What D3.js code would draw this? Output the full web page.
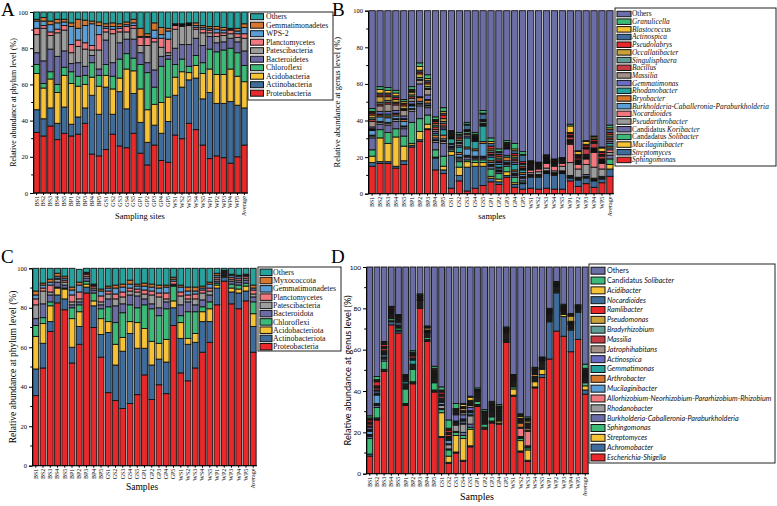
<!DOCTYPE html>
<html><head><meta charset="utf-8">
<script src="https://cdn.jsdelivr.net/npm/d3@7"></script>
<style>body{margin:0;background:#fff}svg{display:block}</style>
</head><body><svg id="c" width="777" height="506"></svg>
<script>
const samples = ["BS1","BS2","BS3","BS4","BS5","BP1","BP2","BP3","BP4","BP5","GS1","GS2","GS3","GS4","GS5","GP1","GP2","GP3","GP4","GP5","WS1","WS2","WS3","WS4","WS5","WP1","WP2","WP3","WP4","WP5","Average"];
const yTicks = [0,20,40,60,80,100];

// Panel A (phylum), stack order bottom -> top
const seriesA = ["Proteobacteria","Actinobacteria","Acidobacteria","Chloroflexi","Bacteroidetes","Patescibacteria","Planctomycetes","WPS-2","Gemmatimonadetes","Others"];
const valuesA = [
[33.5,12.5,20,5,6.5,10,3.5,4,1,4],
[31.5,9.5,17,2.5,12.5,18,1.5,2.5,2,3],
[37,10,16,4,12.5,7.5,2,4,2,5],
[29.5,9,17,4.5,15.5,13,2,3.5,2,4],
[33,14.5,17.5,4.5,9,11.5,2.5,2,1.5,4],
[31.5,6.5,22.5,6.5,4.5,6,4.5,10,2,6],
[32.5,9.5,17,5.5,7.5,9,3.5,6.5,5,4],
[38.5,8.5,13,5,5,9.5,3.5,9.5,3,4.5],
[21.5,32.5,10,8,4,3,2.5,12,1.5,5],
[20.5,23,15.5,6,3.5,10.5,8.5,5,2,5.5],
[24,34.5,6.5,6,13.5,4.5,2,1,1.5,6.5],
[32.5,11,14,7,7.5,16,2.5,1.5,2,6],
[26,30,7.5,10.5,9,6,2,1,1.5,6.5],
[25,21.5,22,8.5,8,4,3,1,1.5,5.5],
[33,22,12.5,7,10.5,6,1.5,1.5,2,4],
[22,17,18.5,13.5,6.5,4,4.5,0.5,4.5,9],
[15.5,12.5,18,20.5,5.5,9.5,4.5,0.5,1.5,12],
[26.5,11,11.5,9.5,9.5,15.5,2,4.5,4,6],
[18,15,17,20,5.5,5,5,2,4,8.5],
[17,22.5,13.5,21,2,1.5,7.5,4.5,1.5,9],
[32,22,10,7,9,10.5,2,0.5,0.5,6.5],
[30,28.5,8.5,7,8,10,0.5,0.5,0.5,6.5],
[38.5,24,4,3.5,12,10.5,0.5,0.5,0.5,6],
[35,28.5,7,5.5,9.5,5,1,1,1.5,6],
[26.5,25.5,14,6,9.5,7,2,1,1,7.5],
[19,36.5,13,11,7,2,1.5,1,1,8],
[20.5,29,16,12.5,5,3.5,2,2,1.5,8],
[19.5,30,16,13.5,4.5,3.5,1.5,1.5,1.5,8.5],
[16.5,34,18,11.5,5.5,2.5,2,0.5,0.5,9],
[20,28.5,16,13,6,2.5,2,1.5,1.5,9],
[26.5,20.5,14.5,9,8,7,2.5,3.5,2,6.5]];

// Panel B (genus)
const seriesB = ["*Sphingomonas*","*Streptomyces*","*Mucilaginibacter*","Candadatus *Solibacter*","Candidatus *Koribacter*","*Pseudarthrobacter*","*Nocardioides*","*Burkholderia-Caballeronia-Paraburkholderia*","*Bryobacter*","*Rhodanobacter*","*Gemmatimonas*","*Massilia*","*Bacillus*","*Singulisphaera*","*Occallatibacter*","*Pseudolabrys*","*Actinospica*","*Blastococcus*","*Granulicella*","Others"];
const valuesB = [
[15,2,3.5,3.5,6.5,1,0.5,2.5,0.5,0.5,1,3,1,1,1.5,1,0.5,0.5,1.5,53.5],
[16.5,1,13,4.5,3,1,0.5,2.5,1,0.5,1.5,3,1,1,3,1,1,2,1.5,41.5],
[16.5,1,10,6,4,1,0.5,2.5,1,1,1.5,4,1,1,2,1,1,1.5,1.5,42],
[14,1,16,4.5,4,1,0.5,1.5,1,0.5,1.5,3,1,0.5,1.5,1,1,1.5,1.5,43.5],
[16,2,8,5.5,4,1,0.5,2.5,1,0.5,1.5,3,0.5,0.5,1.5,1,0.5,1,1,48.5],
[25.5,1,1,11.5,6,1,0.5,1.5,0.5,0.5,1.5,1.5,1,1,1.5,0.5,0.5,0.5,1.5,41.5],
[28.5,1,4.5,7,7,1,0.5,1,2,0.5,7,2,0.5,1,2,1,1,2,2,28.5],
[35,0.5,2.5,5,4,1,0.5,1,1.5,0.5,2.5,3,0.5,1,1.5,1,1,1,2,35],
[13,6.5,0.5,4,4,1,0.5,1,1.5,1,1,1,1.5,1,1,1,0.5,0.5,1.5,58],
[11,2,2,5.5,7,1,0.5,1,2,3,1,1,1.5,1,1.5,2,1,1,2,53],
[3,18,2,1,1,0.5,0.5,1,0.5,2.5,0.5,0.5,0.5,0.5,0.5,0.5,0.5,0.5,0.5,65.5],
[7,3,4.5,3,1,1,0.5,1.5,1,3,1,1,0.5,1,1,1,1,0.5,1,66.5],
[1.5,13,3,1,1.5,0.5,0.5,3.5,1,5,1,1,0.5,1,0.5,0.5,2.5,0.5,1,61],
[3,12,2,1.5,1,0.5,0.5,3,1,4,0.5,0.5,0.5,0.5,0.5,0.5,0.5,0.5,1,66.5],
[4.5,10.5,2,1.5,1,0.5,0.5,7,1,8.5,0.5,0.5,0.5,1,0.5,0.5,3,0.5,1.5,54.5],
[6.5,2,1,4,1.5,0.5,0.5,1,1,2,1,0.5,1,1,1,1.5,1.5,1,2,69.5],
[5,1.5,1.5,3,1,0.5,0.5,1,0.5,1.5,1,0.5,1,1,1,1,1,0.5,1.5,75.5],
[9,1,2,3,1,0.5,0.5,1,2,1,3.5,0.5,0.5,0.5,0.5,0.5,0.5,0.5,1,71],
[3.5,1.5,1,3,1,0.5,0.5,1,1,3,1,1,1,1,1,1,1.5,1,3,72.5],
[2.5,3,0.5,1,1.5,0.5,0.5,1,1,1.5,0.5,0.5,1,1,0.5,1,3.5,0.5,1.5,77],
[3,6,0.5,0.5,0.5,1,1.5,0.5,0.5,0.5,0.5,0.5,0.5,0.5,0.25,0.25,0.25,0.25,0.5,82],
[2.5,6.5,0.5,0.5,0.5,1.5,1.5,0.5,0.5,0.5,0.25,0.25,0.25,0.25,0.25,0.25,0.25,0.25,0.25,82.75],
[3,8,0.5,0.5,0.5,1.5,2.5,0.5,0.5,0.5,0.5,0.5,0.5,0.25,0.25,0.25,0.25,0.25,0.5,78.75],
[2.5,7.5,0.5,0.5,0.5,1,2.5,0.5,0.5,0.5,0.25,0.25,0.25,0.25,0.25,0.25,0.25,0.25,0.5,81],
[2.5,8.5,0.5,0.5,0.5,2.5,1.5,0.5,0.25,0.25,0.25,0.25,0.25,0.25,0.25,0.25,0.25,0.25,0.25,80.25],
[7,1.5,0.5,0.5,0.5,7,10,0.5,0.5,0.5,0.5,0.5,1.5,0.5,0.5,1,0.5,3.5,1,62],
[4,3.5,0.5,0.5,0.5,4.5,2.5,0.5,0.5,0.5,0.5,0.5,1,0.5,0.5,0.5,0.5,1.5,0.5,76.5],
[5.5,3,0.5,0.5,1,5.5,3,0.5,0.5,0.5,0.5,0.5,3,0.5,0.5,1,0.5,1.5,0.5,71],
[3.5,3.5,0.5,0.5,0.5,6,8,0.5,0.5,0.5,0.5,0.5,2.5,0.5,0.5,1,0.5,1,0.5,68.5],
[6,2,0.5,0.5,0.5,4,3,0.5,0.5,0.5,0.5,0.5,1.5,0.5,0.5,1,0.5,2,0.5,74.5],
[9.5,4,2.5,3,2,1.5,1.5,1,1,1.5,1,1,1,1,1,1,1.5,1,1.5,62.5]];

// Panel C (phylum)
const seriesC = ["Proteobacteria","Actinobacteriota","Acidobacteriota","Chloroflexi","Bacteroidota","Patescibacteria","Planctomycetes","Gemmatimonadetes","Myxococcota","Others"];
const valuesC = [
[35.5,13.5,16.5,5.5,3.5,7,3,2,2,11.5],
[49.5,12.5,10,3,7,6.5,1.5,1.5,1,7.5],
[68,5,8,2,3.5,1.5,3.5,1.5,1.5,5.5],
[82.5,4,3.5,0.5,2.5,1.5,0.5,1,1.5,2.5],
[79,5.5,5,0.5,1.5,1.5,1,1,1,4],
[52,8,14.5,5.5,1.5,1.5,3.5,2.5,1.5,9.5],
[61.5,9,7.5,3.5,1.5,1.5,3.5,3.5,1.5,6.5],
[87.5,3,1.5,1.5,1.5,1,1,0.5,0.5,2],
[70,11,2.5,4,1.5,1,1,0.5,0.5,8],
[55,11.5,8,5,2,1.5,3,2.5,1,10.5],
[37,30.5,5.5,7.5,4,2.5,1.5,1.5,1,9],
[33,18,10.5,11,8.5,3.5,2.5,3,1.5,8.5],
[29,29,7,12.5,4.5,3.5,2.5,2.5,1.5,8],
[31.5,35.5,6,8.5,5,2,1.5,2,2,6],
[36,23.5,13,7.5,6,2,1.5,1.5,1,8],
[46,13.5,10,12,3,2.5,2,2,1.5,7.5],
[33.5,17.5,12,16.5,2.5,4.5,2,2,1.5,8],
[41,13,8,14,4,5.5,2,2.5,1.5,8.5],
[36.5,16,11.5,15.5,3.5,1.5,3,3,1,8.5],
[71,9,3.5,7.5,0.5,0.5,1.5,1,1,4.5],
[47,17.5,8,3.5,5.5,4.5,2,2.5,1,8.5],
[43,18.5,3,13.5,5,1.5,2,2,2,9.5],
[49.5,13,4.5,11,3.5,3,2.5,1.5,2,9.5],
[57.5,15.5,5,2.5,3.5,3.5,1.5,1,1,9],
[62.5,10.5,6.5,3.5,3.5,2,1.5,2,1,7],
[81.5,8.5,1.5,1,1,1,1,1,1,2.5],
[93.5,2,0.5,0.5,0.5,0.5,0.5,0.5,0.5,1],
[82,6,2,2,1.5,1,1,1,0.5,3],
[79.5,8,2,2,1.5,1,1,1,0.5,3.5],
[83.5,5,2.5,1.5,1.5,1,1,0.5,0.5,3],
[57.5,13,6.5,6,2.5,1.5,2,1,1.5,8.5]];

// Panel D (genus)
const seriesD = ["*Escherichia-Shigella*","*Achromobacter*","*Streptomyces*","*Sphingomonas*","*Burkholderia-Caballeronia-Paraburkholderia*","*Rhodanobacter*","*Allorhizobium-Neorhizobium-Pararhizobium-Rhizobium*","*Mucilaginibacter*","*Arthrobacter*","*Gemmatimonas*","*Actinospica*","*Jatrophihabitans*","*Massilia*","*Bradyrhizobium*","*Pseudomonas*","*Ramlibacter*","*Nocardioides*","*Acidibacter*","Candidatus *Solibacter*","Others"];
const valuesD = [
[8.5,1,0,7.5,1,0.5,0.5,1.5,0.5,0.5,1,0.5,1,0.5,0.5,1,0.5,0.5,1,72],
[26,0.5,0.5,5,1,0.5,0.5,4,0.5,0.5,1,0.5,1,0.5,0.5,2,0.5,0.5,1.5,53],
[49.5,0.5,0.5,4,1,0.5,0.5,1,0.5,0.5,0.5,0.5,1,0.5,0.5,1,0.5,0.5,0.5,36],
[72,1.5,0.5,1,0.5,0.5,0.5,0.5,0.5,0.5,0.5,0.25,0.5,0.25,0.25,0.5,0.25,0.25,0.25,19],
[68,1,0.5,1,0.5,0.5,0.5,1,0.5,0.5,0.5,0.25,0.5,0.25,0.25,0.5,0.25,0.25,0.25,23],
[33,0.5,0.5,7,0.5,0.5,0.5,0.5,0.5,1,0.5,0.5,0.5,0.25,0.25,0.5,0.25,0.25,0.5,52],
[43.5,0.5,0.5,6,0.5,0.5,0.5,0.5,0.5,2,0.5,0.5,1,0.25,0.25,0.5,0.5,0.25,0.75,40.5],
[80,0.5,0.5,0.5,0.5,0.5,0.5,0.5,0.25,0.25,0.25,0.25,0.5,0.25,0.25,0.5,0.25,0.25,0.5,13],
[64,0.5,0.5,1,0.5,0.5,0.5,0.5,0.25,0.25,0.25,0.25,0.25,0.25,1,0.25,0.25,0.25,0.25,28.5],
[39.5,0.5,0.5,3.5,0.5,0.5,0.5,0.5,0.5,0.5,0.5,0.5,0.5,0.5,0.5,0.5,0.5,0.5,1,48],
[17.5,0.5,11.5,1.5,0.5,1.5,0.5,1,0.5,0.5,0.5,0.5,1,0.5,0.5,1,0.5,0.5,1.5,58],
[5,0.5,3,3,0.5,2,0.5,1.5,0.5,0.5,0.5,0.5,1,0.5,0.5,1,0.5,0.5,4,74],
[10,0.5,8,1.5,0.5,3,0.5,0.5,0.5,0.5,3,0.5,0.5,0.5,0.5,0.5,0.25,0.25,2.5,66],
[6,0.5,10.5,1.5,1.5,4,0.5,1,0.5,0.5,2,1,0.5,0.5,1,0.5,0.5,1,0.5,66],
[13,0.5,8,1,1.5,4,0.5,1,0.5,0.5,1.5,1,0.5,0.5,0.5,0.5,0.5,1.5,0.5,62.5],
[32.5,0.5,0.5,1.5,0.5,0.5,0.5,0.5,0.5,0.5,0.5,0.5,0.5,0.25,0.25,0.25,0.25,0.25,0.75,58.5],
[21.5,0.5,0.5,1.5,0.5,0.5,0.5,0.5,0.5,0.5,0.5,0.5,0.5,0.5,0.5,0.25,0.25,0.25,0.75,69],
[24.5,0.5,0.5,2,0.5,0.5,0.5,0.5,0.5,0.5,0.5,0.5,0.5,0.5,0.5,0.5,0.5,0.5,0.5,65],
[24,0.5,1,0.5,0.5,0.5,0.5,0.5,0.5,0.5,0.5,0.5,0.5,0.5,0.5,0.5,0.5,0.25,0.75,66.5],
[63.5,0.5,0.5,0.5,0.5,0.5,0.5,0.5,0.5,0.5,0.25,0.25,0.5,0.25,0.25,0.5,0.25,0.25,0.5,29],
[37.5,0.5,3,1,0.5,0.5,0.5,0.5,0.5,0.5,0.25,0.25,0.5,0.25,0.25,0.5,0.5,0.25,0.25,52],
[10.5,0.5,5,1,0.5,0.5,4,0.5,2,0.5,0.5,0.5,0.5,0.25,1,0.25,0.25,0.25,0.5,71],
[6,0.5,5,1,0.5,0.5,7,0.5,1,0.5,0.5,0.5,0.5,0.5,1,0.5,0.5,0.25,0.75,72.5],
[41.5,0.5,2.5,0.5,0.5,0.5,0.5,0.5,1,0.5,0.5,0.5,0.5,0.25,0.25,0.25,0.25,0.25,0.25,48.5],
[46.5,1.5,2.5,0.5,0.5,0.5,0.5,0.5,0.5,0.5,0.5,0.25,0.25,0.25,0.25,0.25,0.25,0.25,0.25,43.5],
[55.5,18,0.5,0.5,0.5,0.5,0.5,0.5,0.5,0.5,0.25,0.25,0.5,0.25,0.25,0.25,0.25,0.25,0.25,20],
[69,18.5,0.5,0.5,0.5,0.5,0.5,0.5,0.25,0.25,0.25,0.25,0.25,0.25,0.25,0.25,0,0,0.5,7],
[66.5,9.5,1,0.5,0.5,0.5,0.25,0.25,0.25,0.25,0.25,0.25,0.25,0.25,0.25,0.25,0.25,0.25,0.5,18],
[59,10.5,0.5,0.5,0.5,0.5,0.5,0.25,0.25,0.25,0.25,0.25,0.25,0.25,2.5,0.25,0.25,0.25,0.5,22.5],
[65,13,0.5,0.5,0.5,0.25,0.25,0.25,0.25,0.25,0.25,0,0.25,0,0,0.25,0,0,0.25,18.25],
[38.5,2,2,1.5,0.5,0.5,0.5,0.5,0.5,0.5,0.5,0.5,0.5,0.5,0.5,0.5,0.5,0.5,2,47]];

// Colours (stack order)
const colorsA = ["#e8282b","#3d6c9d","#f6c236","#3cba78","#6b6ca6","#9c9c9c","#f27880","#5b9ed6","#d6772f","#26a39e"];
const colorsC = ["#e8282b","#3d6c9d","#f6c236","#3cba78","#6b6ca6","#9c9c9c","#f27880","#5b9ed6","#d6772f","#26a39e"];
const colorsB = ["#e8282b","#3d6c9d","#f6c236","#3cba78","#6b6ca6","#9c9c9c","#f27880","#5b9ed6","#d6772f","#26a39e","#6a6bc2","#a39189","#c53b43","#5e9e94","#c9a13a","#e8282b","#3d6c9d","#f6c236","#3cba78","#6b6da6"];
const colorsD = ["#e8282b","#3d6c9d","#f6c236","#3cba78","#6b6ca6","#9c9c9c","#f27880","#5b9ed6","#d6772f","#26a39e","#6a6bc2","#a39189","#c53b43","#5e9e94","#c9a13a","#e8282b","#3d6c9d","#f6c236","#3cba78","#6b6da6"];

const svg = d3.select("#c");
const SERIF = "'Liberation Serif','Times New Roman',serif";
const SANS = "Lato,'DejaVu Sans',sans-serif";

function richText(sel, label){
  const parts = label.split("*");
  parts.forEach((p,i)=>{ if(p.length) sel.append("tspan").attr("font-style", i%2===1?"italic":"normal").text(p); });
}

function panel(p){
  const g = svg.append("g");
  const x = d3.scaleBand().domain(samples).range([p.x0, p.x1]).paddingInner(0.2).paddingOuter(0.12);
  const y = d3.scaleLinear().domain([0,100]).range([p.yb, p.yt]);
  const keys = p.series.map((s,i)=>i);
  const table = samples.map((s,j)=>{const o={sample:s}; p.rows[j].forEach((v,i)=>o[i]=v); return o;});
  const stacked = d3.stack().keys(keys)(table);
  g.selectAll("g.layer").data(stacked).join("g").attr("fill",(d,i)=>p.colors[i])
    .selectAll("rect").data(d=>d).join("rect")
    .attr("x",d=>x(d.data.sample)).attr("width",x.bandwidth())
    .attr("y",d=>y(Math.min(100,d[1])))
    .attr("height",d=>Math.max(0,y(d[0])-y(Math.min(100,d[1]))))
    .attr("stroke","#111").attr("stroke-width",0.9);

  // y axis
  const ya = g.append("g").attr("transform",`translate(${p.x0},0)`)
    .call(d3.axisLeft(y).tickValues(yTicks).tickSize(3).tickPadding(2));
  ya.select(".domain").attr("stroke","#000").attr("stroke-width",1);
  ya.selectAll("line").attr("stroke","#000");
  ya.selectAll("text").attr("font-family",p.tickFont||SERIF).attr("font-size",6.5).attr("fill","#000");
  // minor ticks
  g.append("g").selectAll("line").data(d3.range(10,100,20)).join("line")
    .attr("x1",p.x0).attr("x2",p.x0-1.8).attr("y1",d=>y(d)).attr("y2",d=>y(d)).attr("stroke","#000");

  // x axis
  const xa = g.append("g").attr("transform",`translate(0,${p.yb})`)
    .call(d3.axisBottom(x).tickSize(2).tickPadding(2).tickSizeOuter(0));
  xa.select(".domain").attr("stroke","#000").attr("stroke-width",1).attr("d",`M${p.x0},0H${p.x1}`);
  xa.selectAll("line").attr("stroke","#000");
  xa.selectAll("text").attr("font-family",SERIF).attr("font-size",6)
    .attr("text-anchor","end").attr("dy","0.32em").attr("fill","#000")
    .attr("transform","translate(0,3) rotate(-90)").attr("x",0).attr("y",0);

  // axis titles
  g.append("text").attr("transform",`translate(${p.ylx},${(p.yt+p.yb)/2}) rotate(-90)`)
    .attr("text-anchor","middle").attr("font-family",p.ylFont||SERIF).attr("font-size",p.ylSize)
    .text(p.yLabel);
  g.append("text").attr("x",p.xtx).attr("y",p.xty).attr("text-anchor","middle")
    .attr("font-family",SERIF).attr("font-size",p.xtSize).text(p.xTitle);
  g.append("text").attr("x",p.lx).attr("y",p.ly).attr("font-family",SERIF)
    .attr("font-size",19).text(p.letter);

  // legend
  const L = p.legend;
  g.append("rect").attr("x",L.x).attr("y",L.y).attr("width",L.w).attr("height",L.h)
    .attr("fill","#fff").attr("stroke","#222").attr("stroke-width",1);
  const n = p.series.length;
  const items = d3.range(n).map(k=>n-1-k);
  const it = g.selectAll("g.li").data(items).join("g")
    .attr("transform",(d,k)=>`translate(0,${L.y0 + k*L.step})`);
  it.append("rect").attr("x",L.sx).attr("y",-L.sh/2).attr("width",L.sw).attr("height",L.sh)
    .attr("fill",d=>p.colors[d]).attr("stroke","#111").attr("stroke-width",1);
  it.append("text").attr("x",L.tx).attr("y",0).attr("dy","0.33em")
    .attr("font-family",L.font||SERIF).attr("font-size",L.fs).attr("fill","#111")
    .each(function(d){ richText(d3.select(this), p.series[d]); });
}

panel({series:seriesA, rows:valuesA, colors:colorsA, x0:33, x1:248, yt:12, yb:193,
  yLabel:"Relative abundance at phylum level (%)", ylx:16, ylSize:8,
  xTitle:"Sampling sites", xtx:140, xty:219, xtSize:8.5, letter:"A", lx:1, ly:16,
  legend:{x:248,y:12,w:85,h:88,y0:16.7,step:8.5,sx:250.5,sw:13,sh:6,tx:266,fs:7.8}});

panel({series:seriesB, rows:valuesB, colors:colorsB, x0:368, x1:614, yt:10.7, yb:193.7,
  yLabel:"Relative abundance at genus level (%)", ylx:340, ylSize:8.5,
  xTitle:"samples", xtx:492, xty:219, xtSize:8.5, letter:"B", lx:332, ly:16,
  legend:{x:615,y:8,w:161,h:158,y0:14,step:7.68,sx:617,sw:14,sh:5.5,tx:632,fs:7.4}});

panel({series:seriesC, rows:valuesC, colors:colorsC, x0:32, x1:257, yt:268.3, yb:465.7,
  yLabel:"Relative abundance at phylum level (%)", ylx:16, ylSize:9.5,
  xTitle:"Samples", xtx:142, xty:490, xtSize:9.5, letter:"C", lx:1, ly:263,
  legend:{x:258,y:267,w:83,h:84,y0:272.3,step:8.27,sx:260,sw:12,sh:6.5,tx:273,fs:7.9}});

panel({series:seriesD, rows:valuesD, colors:colorsD, x0:366, x1:589, yt:267, yb:473.7,
  yLabel:"Relative abundance at genus level (%)", ylx:351, ylSize:9.2, ylFont:SANS, tickFont:SANS,
  xTitle:"Samples", xtx:477, xty:500, xtSize:10, letter:"D", lx:331, ly:263,
  legend:{x:589,y:264,w:186,h:199,y0:270.7,step:9.83,sx:591,sw:14,sh:7,tx:607,fs:7.2,font:SANS}});
</script></body></html>
